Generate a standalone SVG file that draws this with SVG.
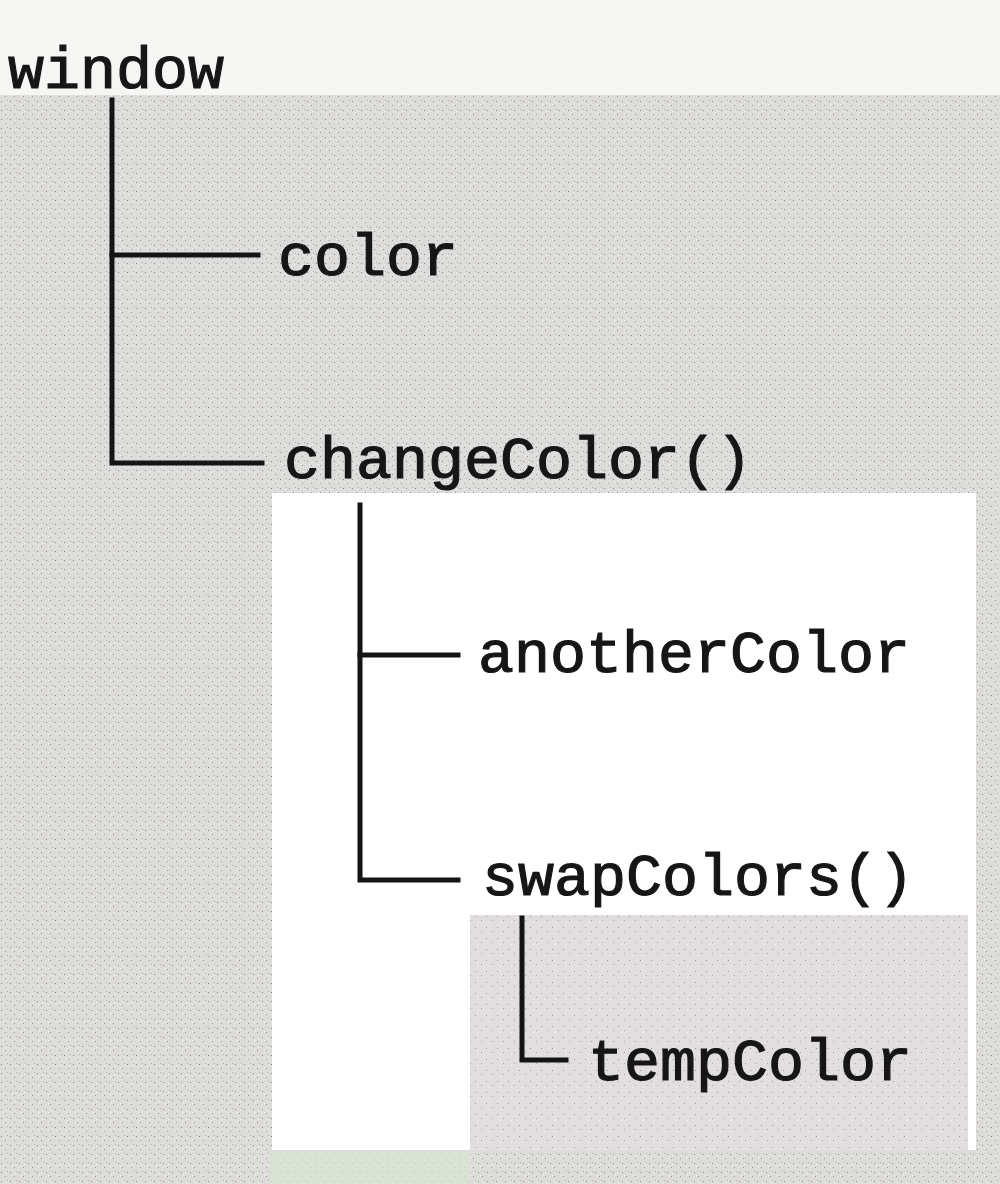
<svg xmlns="http://www.w3.org/2000/svg" width="1000" height="1184" viewBox="0 0 1000 1184">
<defs>
<style>
.lbl{font-family:"Liberation Mono","Courier New",monospace;font-size:60px;fill:#161616;stroke:#161616;stroke-width:1.2px}
.conn{fill:none;stroke:#141414;stroke-width:5;stroke-linejoin:miter;stroke-linecap:square}
</style>
<pattern id="grain" width="9" height="9" patternUnits="userSpaceOnUse">
<rect width="9" height="9" fill="#dedcda"/>
<rect x="1" y="2" width="1" height="1" fill="#8a8886"/>
<rect x="5" y="6" width="1" height="1" fill="#9a9896"/>
<rect x="7" y="1" width="1" height="1" fill="#b2b0ae"/>
<rect x="3" y="5" width="1" height="1" fill="#f2f2f0"/>
<rect x="6" y="3" width="1" height="1" fill="#f4f4f2"/>
</pattern>
<pattern id="grain2" width="11" height="11" patternUnits="userSpaceOnUse">
<rect width="11" height="11" fill="#e2dedf"/>
<rect x="2" y="3" width="1" height="1" fill="#9e9a9c"/>
<rect x="8" y="7" width="1" height="1" fill="#aaa6a8"/>
<rect x="5" y="9" width="1" height="1" fill="#f6f4f4"/>
</pattern>
</defs>
<g id="background">
<rect x="0" y="0" width="1000" height="1184" fill="url(#grain)"/>
<rect x="0" y="0" width="1000" height="95" fill="#f6f6f4"/>
<rect x="270" y="1152" width="200" height="32" fill="#d8e6d0" opacity="0.7"/>
<rect x="272" y="493" width="704" height="657" fill="#ffffff"/>
<rect x="470" y="915" width="498" height="235" fill="url(#grain2)"/>
</g>
<g id="connectors">
<path class="conn" d="M112 100 V463 H262"/>
<path class="conn" d="M112 255 H258"/>
<path class="conn" d="M360 505 V880 H458"/>
<path class="conn" d="M360 655 H458"/>
<path class="conn" d="M522 918 V1060 H566"/>
</g>
<g id="node-window"><text class="lbl" x="8" y="88">window</text></g>
<g id="node-color"><text class="lbl" x="278" y="275">color</text></g>
<g id="node-changeColor"><text class="lbl" x="284" y="478">changeColor()</text></g>
<g id="node-anotherColor"><text class="lbl" x="478" y="672">anotherColor</text></g>
<g id="node-swapColors"><text class="lbl" x="482" y="895">swapColors()</text></g>
<g id="node-tempColor"><text class="lbl" x="588" y="1080">tempColor</text></g>
</svg>
